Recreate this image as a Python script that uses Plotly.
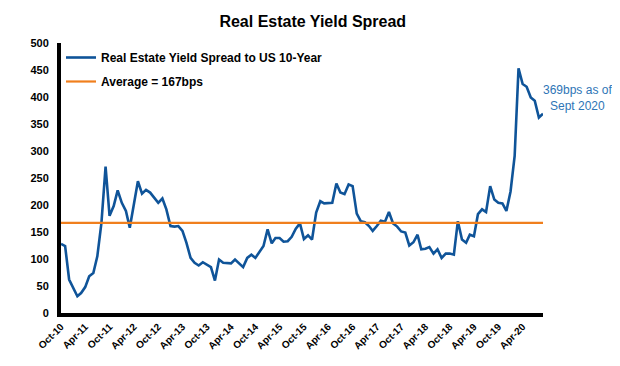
import pandas as pd
import plotly.graph_objects as go

# Monthly spread (bps), Oct-2010 .. Sep-2020
spread = [
    128, 124, 62, 46, 31, 37, 48, 68, 74, 105,
    167, 271, 180, 198, 227, 204, 189, 158, 198, 244,
    221, 228, 223, 213, 204, 212, 192, 161, 160, 161,
    152, 130, 102, 93, 88, 94, 90, 85, 60, 99,
    93, 92, 92, 99, 92, 85, 102, 108, 102, 114,
    124, 155, 129, 139, 139, 132, 133, 141, 156, 166,
    137, 144, 136, 186, 207, 203, 203, 204, 240, 223,
    220, 238, 235, 184, 170, 168, 161, 152, 161, 171,
    169, 187, 166, 160, 151, 149, 125, 131, 145, 118,
    119, 122, 110, 118, 102, 110, 110, 108, 170, 136,
    130, 145, 142, 183, 192, 187, 235, 210, 204, 203,
    189, 225, 291, 453, 424, 419, 399, 393, 362, 369,
]
average = 167
months = pd.date_range("2010-10-01", periods=len(spread), freq="MS")

tick_labels = ["Oct-10", "Apr-11", "Oct-11", "Apr-12", "Oct-12", "Apr-13", "Oct-13",
               "Apr-14", "Oct-14", "Apr-15", "Oct-15", "Apr-16", "Oct-16", "Apr-17",
               "Oct-17", "Apr-18", "Oct-18", "Apr-19", "Oct-19", "Apr-20"]
tick_dates = months[::6][:len(tick_labels)]

series_name = "Real Estate Yield Spread to US 10-Year"
avg_name = "Average = 167bps"
note_text = "369bps as of<br>Sept 2020"

blue = "#0F5499"
orange = "#F07F1D"
font = "Liberation Sans, Arial, sans-serif"

fig = go.Figure()
fig.add_trace(go.Scatter(x=months, y=spread, mode="lines", name="<b>" + series_name + "</b>",
                         line=dict(color=blue, width=2.6), legendgroup="a"))
fig.add_trace(go.Scatter(x=[months[0], months[-1]], y=[average, average], mode="lines",
                         name="<b>" + avg_name + "</b>", line=dict(color=orange, width=2.2),
                         legendgroup="b"))

fig.add_annotation(x=months[-1], y=spread[-1], xref="x", yref="y", text=note_text,
                   showarrow=False, xanchor="center", yanchor="middle", xshift=34, yshift=16,
                   align="center", font=dict(family=font, size=12, color="#2E75B6"))

# The page body adds an 8px margin, so the figure is offset by 8px inside the window.
fig.update_layout(
    width=612, height=358,
    margin=dict(l=53, r=77, t=35, b=53),
    paper_bgcolor="white", plot_bgcolor="white",
    title=dict(text="<b>Real Estate Yield Spread</b>", x=0.498, xanchor="center", y=0.9637,
               yanchor="middle", font=dict(family=font, size=16, color="black")),
    font=dict(family=font, color="black"),
    showlegend=True,
    legend=dict(x=0.0, y=1.0, xanchor="left", yanchor="top", bgcolor="rgba(0,0,0,0)",
                font=dict(family=font, size=12, color="black"), tracegroupgap=5),
    xaxis=dict(range=[months[0], months[-1]], tickvals=list(tick_dates), ticktext=tick_labels,
               tickangle=-45, showgrid=False, zeroline=False, showline=True, linecolor="black",
               linewidth=4, ticks="", tickfont=dict(family=font, size=10, color="black", weight="bold")),
    yaxis=dict(range=[0, 500], dtick=50, showgrid=False, zeroline=False, showline=True,
               linecolor="black", linewidth=4, ticks="", ticklabelstandoff=6,
               tickfont=dict(family=font, size=11, color="black", weight="bold")),
)

fig.write_html("out.html")
